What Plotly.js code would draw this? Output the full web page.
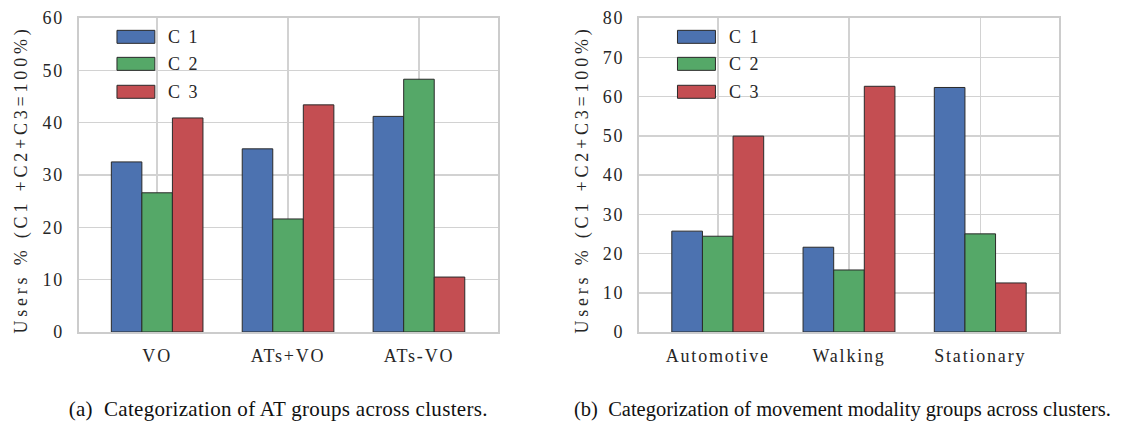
<!DOCTYPE html>
<html><head><meta charset="utf-8">
<script src="https://cdn.plot.ly/plotly-3.0.1.min.js"></script>
<style>
html,body{margin:0;padding:0;background:#fff;}
#chart{width:1126px;height:421px;}
.main-svg text{font-family:'Liberation Serif',serif !important;}
.xtick text,.ytick text,.x2tick text,.y2tick text{letter-spacing:1.8px;}
.annotation text{letter-spacing:2px;}
.annotation[data-index="0"] text,.annotation[data-index="1"] text{letter-spacing:3.8px;}
.annotation[data-index="2"] text{letter-spacing:0.3px;}
.annotation[data-index="3"] text{letter-spacing:0px;}
</style>
</head><body>
<div id="chart"></div>
<script>
const groupsA = ['VO', 'ATs+VO', 'ATs-VO'];
const groupsB = ['Automotive', 'Walking', 'Stationary'];
const seriesNames = ['C 1', 'C 2', 'C 3'];
const c1A = [32.5, 35.0, 41.2];
const c2A = [26.6, 21.6, 48.3];
const c3A = [40.9, 43.4, 10.5];
const c1B = [25.7, 21.6, 62.3];
const c2B = [24.4, 15.8, 25.0];
const c3B = [49.9, 62.6, 12.5];
const yTicksA = [0, 10, 20, 30, 40, 50, 60];
const yTicksB = [0, 10, 20, 30, 40, 50, 60, 70, 80];
const yTitle = 'Users % (C1 +C2+C3=100%)';
const captionA = '(a)  Categorization of AT groups across clusters.';
const captionB = '(b)  Categorization of movement modality groups across clusters.';

const colors = ['#4C72B0', '#55A868', '#C44E52'];
const edge = '#2a2a2a';
const font = 'Liberation Serif';
const txt = '#262626';

const valsA = [c1A, c2A, c3A];
const valsB = [c1B, c2B, c3B];
const traces = [];
valsA.forEach((v, i) => traces.push({type:'bar', x:groupsA, y:v, name:seriesNames[i], xaxis:'x', yaxis:'y',
  marker:{color:colors[i], line:{color:edge, width:1}}}));
valsB.forEach((v, i) => traces.push({type:'bar', x:groupsB, y:v, name:seriesNames[i], xaxis:'x2', yaxis:'y2',
  marker:{color:colors[i], line:{color:edge, width:1}}}));

const yDom = [1 - 332/421, 1 - 18/421];
function xax(dom, anchor){
  return {domain:dom, anchor:anchor, range:[-0.6, 2.6], showgrid:true, gridcolor:'#d2d2d2', gridwidth:1.5,
    showline:true, mirror:true, linecolor:'#cccccc', linewidth:2, zeroline:false,
    ticks:'', ticklabelstandoff:6, tickfont:{family:font, size:18, color:txt}, fixedrange:true};
}
function yax(dom, ticks, max, anchor){
  return {domain:dom, range:[0, max], tickvals:ticks, ticktext:ticks.map(String), anchor:anchor,
    showgrid:true, gridcolor:'#d2d2d2', gridwidth:1.5, showline:true, mirror:true,
    linecolor:'#cccccc', linewidth:2, zeroline:false, ticks:'', ticklabelstandoff:9,
    tickfont:{family:font, size:18, color:txt}, fixedrange:true};
}

const annotations = [
  {text:yTitle, xref:'paper', yref:'paper', x:21/1126, y:1-180/421, textangle:-90, showarrow:false,
   xanchor:'center', yanchor:'middle', font:{family:font, size:18, color:txt}},
  {text:yTitle, xref:'paper', yref:'paper', x:582/1126, y:1-180/421, textangle:-90, showarrow:false,
   xanchor:'center', yanchor:'middle', font:{family:font, size:18, color:txt}},
  {text:captionA, xref:'paper', yref:'paper', x:278/1126, y:1-409/421, showarrow:false,
   xanchor:'center', yanchor:'middle', font:{family:font, size:21, color:'#111'}},
  {text:captionB, xref:'paper', yref:'paper', x:842/1126, y:1-409/421, showarrow:false,
   xanchor:'center', yanchor:'middle', font:{family:font, size:20.5, color:'#111'}}
];
const shapes = [];
const rowY = [0.940, 0.854, 0.765];
[['x domain','y domain'],['x2 domain','y2 domain']].forEach(refs => {
  seriesNames.forEach((n, i) => {
    shapes.push({type:'rect', xref:refs[0], yref:refs[1], x0:0.0916, x1:0.182,
      y0:rowY[i]-0.0207, y1:rowY[i]+0.0207, fillcolor:colors[i], line:{color:edge, width:1}});
    annotations.push({text:n, xref:refs[0], yref:refs[1], x:0.2165, y:rowY[i], showarrow:false,
      xanchor:'left', yanchor:'middle', font:{family:font, size:18, color:txt}});
  });
});

const layout = {
  width:1126, height:421, margin:{l:0, r:0, t:0, b:0},
  paper_bgcolor:'#fff', plot_bgcolor:'#fff',
  barmode:'group', bargap:0.3, bargroupgap:0, showlegend:false, hovermode:false,
  font:{family:font, color:txt},
  xaxis:xax([78.6/1126, 497.5/1126], 'y'),
  yaxis:yax(yDom, yTicksA, 60, 'x'),
  xaxis2:xax([639/1126, 1059/1126], 'y2'),
  yaxis2:yax(yDom, yTicksB, 80, 'x2'),
  shapes:shapes, annotations:annotations
};
Plotly.newPlot('chart', traces, layout, {staticPlot:true, displayModeBar:false});
</script>
</body></html>
